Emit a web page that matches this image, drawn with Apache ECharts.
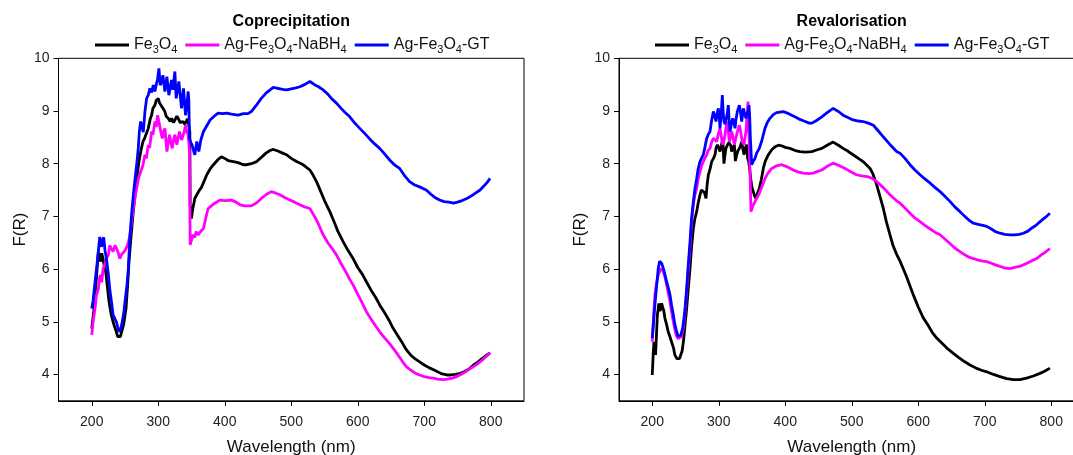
<!DOCTYPE html>
<html>
<head>
<meta charset="utf-8">
<script src="https://cdn.jsdelivr.net/npm/echarts@6/dist/echarts.min.js"></script>
<style>
html,body{margin:0;padding:0;background:#fff;}
#chart{width:1073px;height:455px;}
</style>
</head>
<body>
<div id="chart"></div>
<script>
// ---- Data (wavelength nm, F(R)) ----
const panelTitles = ['Coprecipitation', 'Revalorisation'];
const seriesNames = ['Fe3O4', 'Ag-Fe3O4-NaBH4', 'Ag-Fe3O4-GT'];
const xTicks = [200, 300, 400, 500, 600, 700, 800];
const yTicks = [4, 5, 6, 7, 8, 9, 10];

const copFe3O4 = [[200,4.87],[203,5.2],[205,5.5],[208,6.0],[210,6.33],[212,6.2],[213.5,6.14],[215,6.3],[217,6.2],[219,6.05],[221,5.95],[224,5.6],[226,5.38],[229,5.15],[232,5.0],[235,4.88],[237,4.81],[239,4.72],[241,4.69],[243,4.72],[245,4.75],[248,4.95],[251.5,5.25],[254,5.7],[256,6.14],[259,6.6],[262,7.03],[265,7.4],[267,7.66],[269,7.85],[271,8.04],[274,8.25],[277,8.42],[280,8.5],[283,8.6],[285,8.67],[288,8.85],[290,8.92],[292,9.05],[295,9.11],[297,9.2],[300,9.24],[302,9.15],[305,9.18],[307,9.05],[310,8.99],[312,8.9],[315,8.86],[318,8.8],[320,8.86],[323,8.78],[325,8.8],[328,8.9],[330,8.86],[333,8.78],[337,8.8],[340,8.75],[342,8.73],[344,8.85],[346,8.73],[347.5,8.6],[348,7.2],[349.8,6.96],[352,7.15],[355,7.34],[358,7.41],[362,7.5],[365,7.55],[368,7.53],[370,7.7],[373,7.79],[378,7.9],[383,7.98],[390,8.08],[395,8.13],[400,8.1],[405,8.06],[413,8.04],[420,8.02],[428,7.98],[433,7.98],[440,8.0],[448,8.04],[455,8.12],[462,8.2],[468,8.25],[473,8.27],[480,8.24],[487,8.2],[493,8.17],[500,8.1],[508,8.04],[515,8.0],[520,7.96],[528,7.88],[533,7.78],[538,7.66],[545,7.45],[550,7.3],[558,7.09],[565,6.88],[570,6.72],[578,6.52],[585,6.36],[593,6.2],[600,6.03],[607,5.9],[613,5.76],[620,5.6],[627,5.46],[633,5.32],[640,5.18],[647,5.03],[653,4.88],[660,4.74],[667,4.6],[673,4.47],[680,4.36],[687,4.29],[693,4.24],[700,4.18],[707,4.13],[714,4.09],[720,4.05],[727,4.01],[734,3.99],[740,3.99],[747,4.0],[754,4.02],[760,4.05],[767,4.1],[774,4.18],[780,4.23],[787,4.3],[793,4.36],[799,4.41]];

const copNaBH4 = [[200,4.75],[202,5.0],[205,5.25],[207,5.5],[210,5.63],[212,5.85],[213.5,5.89],[215,5.75],[217,6.0],[220,6.1],[222,6.2],[225,6.27],[227,6.45],[230,6.46],[232,6.33],[235,6.45],[237,6.4],[240,6.3],[242,6.2],[245,6.28],[247,6.3],[250,6.35],[252,6.4],[255,6.5],[257.5,6.65],[260,6.9],[262.5,7.15],[265,7.35],[267.5,7.53],[270,7.7],[272,7.79],[275,7.9],[277,7.97],[280,8.17],[282,8.1],[285,8.35],[287,8.3],[290,8.61],[292,8.55],[295,8.8],[297,8.7],[299,8.92],[302,8.73],[304,8.6],[306,8.48],[308,8.6],[310,8.67],[313,8.23],[315,8.4],[317,8.55],[319,8.4],[321,8.29],[323,8.45],[325,8.55],[328,8.36],[330,8.5],[332,8.61],[335,8.45],[337,8.48],[339,8.6],[341,8.73],[343,8.6],[345,8.55],[347,8.23],[348,6.46],[350,6.55],[352,6.65],[355,6.6],[357,6.71],[360,6.65],[364,6.72],[368,6.77],[372,7.0],[375,7.15],[380,7.2],[385,7.25],[393,7.31],[400,7.3],[410,7.31],[417,7.27],[423,7.22],[430,7.2],[440,7.2],[448,7.26],[455,7.34],[463,7.42],[470,7.47],[477,7.44],[483,7.41],[490,7.36],[498,7.31],[505,7.27],[513,7.22],[520,7.18],[528,7.15],[535,7.0],[540,6.88],[548,6.65],[555,6.5],[562,6.38],[568,6.27],[575,6.1],[582,5.95],[588,5.8],[593,5.7],[600,5.52],[607,5.35],[613,5.19],[620,5.05],[627,4.92],[633,4.81],[640,4.7],[647,4.6],[653,4.5],[660,4.38],[667,4.25],[673,4.15],[680,4.08],[687,4.02],[693,3.99],[700,3.96],[707,3.94],[714,3.93],[720,3.91],[729,3.9],[735,3.91],[742,3.93],[749,3.96],[755,4.0],[762,4.05],[768,4.1],[774,4.15],[780,4.2],[787,4.27],[793,4.34],[799,4.41]];

const copGT = [[200,5.25],[202,5.4],[205,5.76],[208,6.1],[210,6.35],[212,6.61],[213.5,6.5],[214.8,6.42],[216,6.55],[218,6.6],[220,6.35],[222,6.2],[225,5.9],[227,5.63],[230,5.35],[232,5.13],[235,5.05],[237,5.0],[239,4.9],[241,4.81],[243,4.85],[245,4.94],[248,5.15],[250,5.38],[253,5.7],[255,6.0],[257.5,6.64],[260,7.05],[262.5,7.4],[265,7.7],[267.5,7.97],[270,8.3],[271.5,8.6],[273.5,8.8],[275.5,8.7],[277.5,8.6],[280,8.99],[282.5,9.24],[285,9.3],[287.5,9.43],[290,9.35],[292.5,9.49],[295,9.37],[297,9.5],[299,9.6],[301,9.81],[303,9.49],[305,9.55],[307,9.68],[310,9.37],[313,9.65],[316,9.3],[318,9.45],[320,9.59],[322,9.4],[325,9.75],[327,9.24],[329,9.4],[331,9.56],[333,9.3],[335,9.05],[338,9.43],[341,8.92],[343,9.1],[345,9.37],[346,9.2],[347,8.48],[349,8.4],[351,8.35],[353,8.25],[355,8.17],[356.5,8.3],[358,8.42],[361,8.23],[364,8.45],[368,8.61],[373,8.72],[378,8.83],[384,8.9],[390,8.96],[396,8.95],[403,8.96],[410,8.94],[420,8.92],[428,8.95],[435,8.95],[440,8.99],[447,9.1],[455,9.24],[463,9.35],[473,9.45],[480,9.43],[487,9.41],[493,9.4],[500,9.42],[507,9.44],[513,9.46],[520,9.5],[528,9.56],[535,9.5],[541,9.46],[548,9.4],[555,9.32],[561,9.23],[568,9.15],[575,9.05],[581,8.97],[588,8.89],[595,8.78],[603,8.67],[610,8.58],[618,8.47],[625,8.38],[633,8.29],[640,8.19],[648,8.07],[655,7.98],[663,7.91],[670,7.78],[678,7.66],[685,7.6],[693,7.56],[703,7.5],[710,7.42],[716,7.36],[723,7.31],[730,7.28],[737,7.27],[744,7.25],[750,7.27],[757,7.3],[764,7.34],[770,7.38],[777,7.44],[784,7.5],[790,7.58],[795,7.65],[799,7.72]];

const revFe3O4 = [[200,3.99],[201.5,4.4],[202.6,4.62],[204,4.5],[205,4.37],[206.5,4.8],[207.7,5.13],[210,5.35],[211.5,5.2],[212.7,5.26],[214,5.35],[215.7,5.32],[217.5,5.2],[219,5.07],[221.5,4.95],[224,4.81],[227,4.7],[229,4.62],[232,4.5],[234,4.37],[237,4.3],[239,4.27],[241,4.3],[242.7,4.31],[245,4.45],[246.8,4.62],[249,4.9],[251.8,5.26],[254,5.6],[256.8,6.01],[259,6.4],[261.8,6.77],[264,6.95],[266.8,7.09],[269,7.25],[271.8,7.41],[274,7.5],[276.8,7.53],[278.5,7.45],[280.8,7.34],[282.5,7.6],[284.4,7.79],[287,7.9],[289.4,8.04],[292,8.1],[294.4,8.17],[296,8.3],[298,8.36],[300,8.3],[301.9,8.23],[304,8.35],[306,8.48],[307.8,8.0],[309.4,8.17],[311,8.3],[313,8.29],[315,8.4],[316,8.42],[318,8.35],[319.4,8.23],[321.5,8.3],[323.5,8.36],[325,8.05],[327,8.17],[329,8.25],[331,8.29],[333,8.35],[334.5,8.42],[336,8.3],[338,8.17],[340,8.3],[342,8.36],[343.5,8.1],[345,8.04],[346.5,7.9],[348,7.72],[350,7.55],[352,7.47],[354,7.38],[356,7.34],[358.5,7.45],[361,7.53],[364,7.7],[367,7.91],[370,8.05],[374.6,8.17],[380,8.27],[384.6,8.32],[390,8.35],[394.6,8.34],[400,8.31],[407,8.29],[415,8.25],[422,8.23],[430,8.22],[440,8.23],[447,8.26],[455,8.29],[463,8.35],[472,8.41],[480,8.35],[487,8.29],[495,8.23],[502,8.17],[510,8.1],[517,8.04],[522,7.98],[527.5,7.91],[532,7.8],[537.5,7.6],[542,7.4],[547.5,7.15],[552,6.9],[557.5,6.65],[562,6.45],[567.5,6.28],[572.6,6.15],[577.6,6.0],[582.6,5.85],[587.6,5.68],[592.6,5.51],[600,5.28],[607.7,5.07],[615,4.93],[621,4.8],[627.7,4.69],[635,4.6],[643,4.5],[652.8,4.4],[660,4.33],[670,4.24],[677.9,4.18],[687,4.12],[695,4.08],[703,4.05],[713,4.0],[723,3.96],[733,3.92],[743,3.9],[753,3.9],[763,3.93],[773,3.97],[783,4.02],[790,4.06],[798,4.12]];

const revNaBH4 = [[200,4.62],[202,5.1],[204,5.51],[206,5.7],[209,5.89],[211,5.95],[212.7,6.01],[214.5,5.98],[216.7,5.95],[219,5.85],[221.7,5.7],[224,5.55],[226.7,5.38],[229,5.2],[231.7,5.0],[234,4.85],[236.7,4.72],[239,4.68],[241.7,4.66],[244,4.72],[246.8,4.88],[249,5.15],[251.8,5.57],[254,5.95],[256.8,6.4],[259,6.85],[261.8,7.22],[264,7.4],[266.8,7.53],[269,7.7],[271.8,7.85],[274,7.95],[276.8,8.04],[279,8.1],[281.9,8.17],[284,8.25],[286.9,8.29],[289,8.4],[291.9,8.48],[294,8.5],[297,8.42],[299,8.55],[302,8.67],[304,8.5],[306,8.36],[308,8.45],[309.4,8.55],[311,8.7],[313,8.8],[314.5,8.6],[316,8.42],[318,8.5],[319.4,8.61],[321.5,8.5],[323.5,8.36],[325,8.45],[327,8.55],[329,8.65],[331,8.73],[333,8.6],[334.5,8.48],[336,8.4],[338,8.36],[339.5,8.5],[341,8.61],[342.5,8.9],[344,9.18],[345,8.8],[346,8.29],[347.5,7.6],[348.5,7.09],[350,7.15],[352,7.22],[354.5,7.2],[357,7.34],[359.5,7.4],[362,7.47],[366,7.6],[369.5,7.72],[374,7.82],[379.6,7.91],[387,7.96],[394.6,7.98],[403,7.94],[412,7.88],[420,7.84],[427,7.82],[435,7.81],[442,7.82],[448,7.85],[455,7.88],[463,7.95],[472,8.01],[480,7.97],[490,7.91],[498,7.85],[507,7.79],[515,7.77],[525,7.75],[531,7.72],[537.5,7.66],[547,7.55],[557.5,7.41],[567,7.3],[572.6,7.25],[577.6,7.19],[587.6,7.06],[595,6.97],[602.7,6.9],[610,6.83],[618,6.76],[625,6.7],[632.8,6.65],[640,6.57],[648,6.48],[655,6.4],[662.8,6.33],[670,6.27],[677,6.22],[683,6.2],[690,6.17],[697,6.15],[703,6.14],[710,6.11],[716,6.08],[723,6.05],[730,6.02],[738,6.01],[745,6.03],[752,6.05],[758,6.08],[765,6.12],[771,6.16],[778,6.2],[785,6.27],[791,6.32],[798,6.39]];

const revGT = [[200,4.69],[202,5.0],[204,5.32],[206,5.6],[209,6.01],[211,6.15],[212.7,6.17],[214.5,6.1],[216.7,6.01],[219,5.9],[221.7,5.76],[224,5.65],[226.7,5.51],[229,5.32],[231.7,5.13],[234,4.95],[236.7,4.81],[239,4.72],[240.7,4.69],[243,4.75],[245.8,4.88],[249,5.2],[251.8,5.64],[254,6.05],[256.8,6.52],[259,6.95],[261.8,7.28],[264,7.5],[266.8,7.72],[269,7.9],[271.8,8.04],[274,8.1],[276.8,8.17],[279,8.3],[281.9,8.48],[284,8.55],[286.9,8.61],[289,8.8],[291.9,8.99],[294,8.9],[295.9,8.8],[297.5,8.95],[299.4,9.05],[301,8.85],[301.9,8.67],[304,9.0],[305.4,9.3],[306.5,9.0],[307.9,8.8],[309.5,8.75],[311,8.73],[312.8,8.95],[314.4,9.11],[315.5,8.85],[317,8.61],[319,8.75],[321,8.86],[323,8.78],[324.5,8.67],[326,8.85],[328,8.99],[329.5,9.05],[331,9.11],[333,8.95],[334.5,8.8],[336,8.95],[337,9.05],[339,8.95],[341,8.86],[343,8.95],[344.5,9.02],[345.5,9.11],[346.5,8.9],[347.5,8.5],[349.5,7.98],[352,8.05],[354.5,8.1],[357,8.2],[361,8.29],[365,8.45],[369.5,8.67],[373,8.78],[377,8.86],[382,8.93],[387,8.97],[392,8.98],[397,8.99],[403,8.96],[409.6,8.92],[416,8.88],[422,8.84],[430,8.8],[436,8.77],[440,8.77],[447,8.82],[455,8.89],[463,8.97],[472,9.05],[480,8.99],[487,8.92],[495,8.87],[502,8.83],[510,8.81],[517,8.8],[525,8.77],[532.5,8.73],[540,8.62],[547.5,8.51],[557,8.37],[567.5,8.23],[572.6,8.2],[580,8.1],[587.6,7.98],[595,7.88],[602.7,7.79],[610,7.71],[618,7.63],[625,7.55],[632.8,7.47],[640,7.38],[648,7.28],[655,7.18],[662.8,7.09],[670,7.0],[676,6.93],[683,6.87],[690,6.85],[697,6.83],[703,6.81],[710,6.76],[716,6.71],[723,6.68],[730,6.66],[738,6.65],[745,6.65],[752,6.66],[758,6.68],[765,6.72],[771,6.78],[778,6.84],[785,6.92],[791,6.98],[798,7.06]];

// ---- Chart ----
const colors = ['#000000', '#ff00ff', '#0000ff'];
const FONT = '"Liberation Sans", Arial, Helvetica, sans-serif';
const grids = [
  {left: 58.5, top: 58.3, width: 465.5, height: 342.5},
  {left: 619, top: 58.3, width: 465.5, height: 342.5}
];
const panelData = [[copFe3O4, copNaBH4, copGT], [revFe3O4, revNaBH4, revGT]];
const legendLeft = [95, 655];

function subFormat(name) {
  return name.replace(/(\d)/g, '{s|$1}');
}

const option = {
  animation: false,
  backgroundColor: '#ffffff',
  title: panelTitles.map((t, i) => ({
    text: t,
    left: grids[i].left + grids[i].width / 2,
    textAlign: 'center',
    top: 14,
    padding: 0,
    textStyle: {fontFamily: FONT, fontWeight: 'bold', fontSize: 16, color: '#000'}
  })),
  legend: panelTitles.map((t, i) => ({
    data: seriesNames,
    left: legendLeft[i],
    top: 35,
    padding: 0,
    icon: 'rect',
    itemWidth: 34,
    itemHeight: 3,
    itemGap: 8,
    selectedMode: false,
    formatter: subFormat,
    textStyle: {
      fontFamily: FONT, fontSize: 16, color: '#111',
      rich: {s: {fontFamily: FONT, fontSize: 11, lineHeight: 11, padding: [9, 0, 0, 0], color: '#111'}}
    }
  })),
  grid: grids.map(g => Object.assign({
    show: true, borderColor: '#000', borderWidth: 1, backgroundColor: 'transparent',
    containLabel: false, outerBoundsMode: 'none'
  }, g)),
  xAxis: grids.map((g, i) => ({
    type: 'value', gridIndex: i, min: 150, max: 850,
    name: 'Wavelength (nm)', nameLocation: 'middle', nameGap: 38,
    nameTextStyle: {fontFamily: FONT, fontSize: 17, color: '#111'},
    axisLine: {show: true, lineStyle: {color: '#000', width: 1}},
    axisTick: {show: true, length: 5, inside: false, customValues: xTicks, lineStyle: {color: '#000'}},
    axisLabel: {customValues: xTicks, fontFamily: FONT, fontSize: 14, color: '#222', margin: 14},
    splitLine: {show: false}
  })),
  yAxis: grids.map((g, i) => ({
    type: 'value', gridIndex: i, min: 3.5, max: 10,
    name: 'F(R)', nameLocation: 'middle', nameGap: 30,
    nameTextStyle: {fontFamily: FONT, fontSize: 17, color: '#111'},
    axisLine: {show: true, lineStyle: {color: '#000', width: 1}},
    axisTick: {show: true, length: 5, inside: false, customValues: yTicks, lineStyle: {color: '#000'}},
    axisLabel: {customValues: yTicks, fontFamily: FONT, fontSize: 14, color: '#222', margin: 9},
    splitLine: {show: false}
  })),
  series: []
};

panelData.forEach((sets, p) => {
  sets.forEach((d, k) => {
    option.series.push({
      type: 'line', name: seriesNames[k], xAxisIndex: p, yAxisIndex: p,
      data: d, showSymbol: false, symbol: 'none', smooth: false,
      lineStyle: {color: colors[k], width: 2.8},
      itemStyle: {color: colors[k]},
      z: 2 + k
    });
  });
});

const chart = echarts.init(document.getElementById('chart'), null, {renderer: 'canvas'});
chart.setOption(option);
</script>
</body>
</html>
